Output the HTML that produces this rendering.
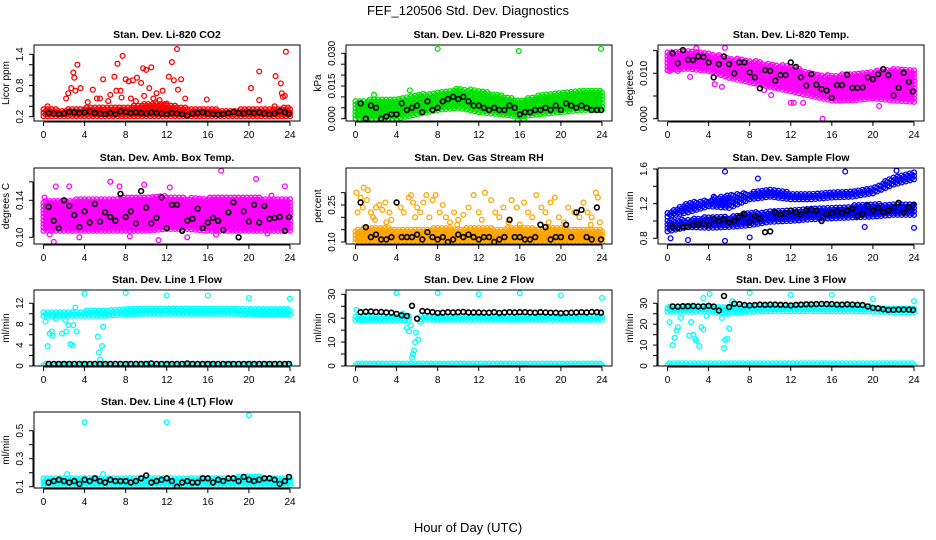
<!DOCTYPE html>
<html><head><meta charset="utf-8"><style>
html,body{margin:0;padding:0;background:#fff;}
svg{display:block;font-family:"Liberation Sans",sans-serif;}
</style></head><body>
<svg id="chart" width="936" height="540" viewBox="0 0 936 540" xmlns="http://www.w3.org/2000/svg">
<rect x="0" y="0" width="936" height="540" fill="#fff"/>
<text x="468" y="15" text-anchor="middle" font-size="13">FEF_120506  Std. Dev. Diagnostics</text>
<text x="468" y="532" text-anchor="middle" font-size="13">Hour of Day (UTC)</text>
</svg>
<script>
// ---- shared data ----
const xTicks = [0,4,8,12,16,20,24];
const bandHours = [0,2,4,6,8,10,12,14,16,18,20,22,24];
const blackHours = [0.5,1,1.5,2,2.5,3,3.5,4,4.5,5,5.5,6,6.5,7,7.5,8,8.5,9,9.5,10,10.5,11,11.5,12,12.5,13,13.5,14,14.5,15,15.5,16,16.5,17,17.5,18,18.5,19,19.5,20,20.5,21,21.5,22,22.5,23,23.5,23.9];

// ---- CO2 ----
const co2BandLo = [0.21,0.21,0.21,0.21,0.21,0.21,0.21,0.21,0.21,0.21,0.21,0.21,0.21];
const co2BandHi = [0.36,0.34,0.38,0.38,0.40,0.45,0.45,0.38,0.35,0.34,0.35,0.35,0.40];
const co2OutX = [0.4,2.2,2.4,2.7,2.9,3.0,3.3,3.1,3.6,4.3,4.8,5.2,5.5,5.8,6.3,6.5,6.9,7.1,7.2,7.5,7.7,7.6,8.0,8.3,8.7,9.1,9.5,9.7,10.0,10.3,10.5,10.7,11.0,11.6,12.2,12.5,12.7,13.0,13.1,13.4,13.8,15.9,20.2,21.0,21.0,22.6,23.1,23.2,23.3,23.6,23.5,22.5,9.0,9.8,10.9,12.0,8.5,11.3];
const co2OutY = [0.40,0.55,0.65,0.75,1.05,0.95,1.2,0.7,0.75,0.48,0.72,0.55,0.55,0.92,0.5,0.62,0.97,0.7,1.22,0.7,1.37,0.57,0.92,0.88,0.9,0.95,0.85,1.13,1.1,0.75,1.15,0.55,0.65,0.7,0.97,1.25,0.9,1.5,0.72,0.92,0.55,0.53,0.75,1.07,0.52,0.98,0.84,0.65,0.58,1.45,0.6,0.4,0.5,0.6,0.48,0.45,0.55,0.52];
const co2Black = [0.27,0.26,0.25,0.26,0.29,0.28,0.27,0.28,0.30,0.27,0.26,0.25,0.27,0.25,0.30,0.29,0.27,0.28,0.27,0.26,0.28,0.27,0.26,0.25,0.27,0.26,0.25,0.22,0.26,0.27,0.28,0.26,0.25,0.24,0.25,0.27,0.29,0.27,0.26,0.28,0.27,0.28,0.26,0.25,0.26,0.31,0.28,0.25];

// ---- Pressure ----
const presBandLo = [0.000,0.000,0.000,0.002,0.004,0.005,0.003,0.002,0.001,0.002,0.003,0.004,0.004];
const presBandHi = [0.0086,0.009,0.0094,0.011,0.0124,0.0139,0.0132,0.011,0.0086,0.011,0.0124,0.013,0.0132];
const presOutX = [8,15.9,23.9,5.3,1.8,15.8,16.4];
const presOutY = [0.032,0.031,0.032,0.013,0.011,-0.0005,-0.0005];
const presBlack = [0.007,0.000,0.006,0.005,0.000,0.001,0.002,0.002,0.007,0.004,0.005,0.006,0.003,0.008,0.004,0.005,0.008,0.009,0.010,0.009,0.010,0.008,0.006,0.006,0.005,0.004,0.005,0.004,0.004,0.006,0.005,0.002,0.003,0.003,0.004,0.004,0.005,0.004,0.006,0.004,0.007,0.006,0.005,0.006,0.005,0.004,0.004,0.004];

// ---- Li-820 Temp ----
const tempBandLo = [0.0107,0.011,0.0105,0.009,0.008,0.007,0.006,0.005,0.004,0.004,0.0045,0.004,0.0037];
const tempBandHi = [0.0148,0.015,0.0145,0.0135,0.013,0.012,0.0118,0.010,0.0096,0.010,0.0105,0.011,0.0107];
const tempOutX = [15.1,12,12.3,13.2,20.6,10.1,9.4,5.6,2.8,4.6,5.3,0.2,2.2,1.0];
const tempOutY = [0.000,0.0035,0.0035,0.0035,0.0028,0.0052,0.0063,0.0156,0.0155,0.0076,0.007,0.0105,0.0092,0.0105];
const tempBlack = [0.0144,0.0122,0.0151,0.013,0.0129,0.0137,0.0136,0.0124,0.0091,0.012,0.0137,0.012,0.010,0.0124,0.0124,0.0102,0.0091,0.0067,0.0107,0.0105,0.0084,0.0096,0.0096,0.0124,0.0114,0.0091,0.0073,0.0098,0.0075,0.0065,0.0062,0.0046,0.0074,0.0074,0.0097,0.0068,0.0068,0.0069,0.0091,0.0087,0.0098,0.0109,0.0096,0.0051,0.0068,0.0101,0.0081,0.006];

// ---- Amb Box Temp ----
const ambBandLo = [0.107,0.107,0.107,0.107,0.107,0.107,0.109,0.109,0.107,0.107,0.107,0.107,0.107];
const ambBandHi = [0.140,0.140,0.142,0.142,0.143,0.143,0.145,0.143,0.143,0.143,0.144,0.142,0.142];
const ambOutX = [1.2,1.0,17.3,6.5,9.8,20.7,2.5,23.5,0.6,3.5,7.4,11.2,14.0,8.4,16.8,21.8,0.1,12.3,22.2];
const ambOutY = [0.155,0.095,0.172,0.160,0.157,0.163,0.155,0.155,0.103,0.100,0.155,0.097,0.100,0.101,0.103,0.104,0.143,0.154,0.145];
const ambBlack = [0.133,0.118,0.110,0.140,0.134,0.124,0.111,0.128,0.116,0.136,0.117,0.127,0.122,0.118,0.147,0.122,0.128,0.115,0.150,0.132,0.115,0.121,0.143,0.110,0.135,0.135,0.107,0.118,0.120,0.131,0.110,0.116,0.121,0.118,0.108,0.127,0.138,0.100,0.128,0.117,0.135,0.116,0.134,0.120,0.121,0.122,0.107,0.122];

// ---- Gas Stream RH ----
const rhBandLo = [0.10,0.10,0.10,0.10,0.10,0.10,0.10,0.10,0.10,0.10,0.10,0.10,0.10];
const rhBandHi = [0.155,0.16,0.155,0.15,0.16,0.155,0.16,0.155,0.16,0.155,0.16,0.15,0.155];
const rhOutX = [0.1,0.2,0.5,0.7,0.8,1.2,1.1,1.5,1.7,2,2.3,2.6,2.9,3.3,3.5,4.4,4.7,5.2,5.4,5.6,6.0,6.3,6.6,6.9,7.2,7.5,7.8,8.2,8.5,8.8,9.2,9.6,10,10.5,11,11.5,12,12.6,13.2,13.6,14.0,14.4,14.9,15.2,15.7,16.4,16.8,17.2,17.6,18.1,18.5,19.0,19.4,19.8,20.3,20.7,21.3,21.8,22.2,22.6,23.0,23.4,23.6,23.8,3.0,9.9,16.0,22.9,1.9,5.8,12.3,18.8];
const rhOutY = [0.30,0.22,0.28,0.24,0.32,0.31,0.27,0.22,0.20,0.24,0.25,0.23,0.26,0.22,0.19,0.24,0.22,0.28,0.29,0.26,0.24,0.22,0.26,0.29,0.20,0.27,0.29,0.22,0.25,0.20,0.18,0.22,0.19,0.21,0.24,0.29,0.22,0.30,0.27,0.22,0.20,0.24,0.18,0.27,0.24,0.26,0.22,0.20,0.29,0.24,0.22,0.26,0.28,0.20,0.18,0.24,0.22,0.20,0.26,0.22,0.20,0.30,0.28,0.18,0.18,0.17,0.17,0.17,0.19,0.20,0.19,0.18];
const rhBlack = [0.26,0.16,0.12,0.13,0.11,0.11,0.12,0.26,0.12,0.12,0.12,0.13,0.11,0.14,0.12,0.11,0.12,0.10,0.11,0.13,0.12,0.13,0.12,0.11,0.12,0.12,0.10,0.11,0.12,0.19,0.12,0.12,0.11,0.11,0.12,0.17,0.16,0.11,0.12,0.12,0.17,0.12,0.22,0.23,0.12,0.11,0.24,0.11];

// ---- Sample Flow ----
const flowLowLo = [0.88,0.93,0.92,0.93,0.95,0.99,1.00,1.02,1.03,1.04,1.05,1.07,1.07];
const flowLowHi = [1.02,1.02,1.05,1.05,1.10,1.12,1.13,1.15,1.17,1.18,1.20,1.20,1.20];
const flowHighLo = [1.05,1.10,1.17,1.15,1.25,1.28,1.25,1.25,1.27,1.28,1.32,1.42,1.48];
const flowHighHi = [1.10,1.22,1.25,1.30,1.33,1.37,1.33,1.33,1.35,1.35,1.38,1.52,1.57];
const flowOutX = [5.6,5.6,8.8,8,2,24,19.2,17.3,22.3,0.3,4.5];
const flowOutY = [1.57,0.77,1.49,0.81,0.78,0.92,0.93,1.57,1.58,0.80,1.28];
const flowBlack = [0.93,0.92,0.93,0.93,0.95,0.96,0.97,0.95,1.02,1.00,1.02,0.98,1.00,1.05,1.08,0.99,1.06,1.03,0.87,0.88,1.10,1.07,1.09,1.12,1.10,1.07,1.12,1.13,1.12,1.00,1.08,1.09,1.11,1.09,1.12,1.14,1.06,1.08,1.18,1.12,1.15,1.10,1.12,1.16,1.21,1.10,1.16,1.18];

// ---- Line 1 ----
const l1BandLo = [9.6,9.6,9.6,9.6,9.9,10.0,10.0,10.0,10.0,10.0,9.9,9.9,9.9];
const l1BandHi = [10.6,10.5,10.6,10.7,10.9,11.0,11.0,11.0,11.0,11.0,10.9,10.9,10.9];
const l1LowLo = [0.1,0.1,0.1,0.1,0.1,0.1,0.1,0.1,0.1,0.1,0.1,0.1,0.1];
const l1LowHi = [0.6,0.6,0.6,0.6,0.6,0.6,0.6,0.6,0.6,0.6,0.6,0.6,0.6];
const l1OutX = [0.2,0.4,0.6,0.8,0.9,1.2,1.8,2.2,2.4,2.6,2.8,2.9,3.1,3.2,4,5.3,5.4,5.5,5.7,5.8,8,12,16,20,24,2.1];
const l1OutY = [8.5,3.8,6.2,6.6,5.8,9.0,6.2,6.6,7.8,4.2,4.0,7.8,11.2,6.6,13.8,5.6,2.6,1.2,3.8,7.5,14,13.5,13.5,13,12.9,8.8];
const l1Black = [0.4,0.4,0.4,0.4,0.4,0.4,0.4,0.4,0.4,0.4,0.4,0.4,0.4,0.4,0.4,0.4,0.4,0.4,0.4,0.4,0.5,0.4,0.4,0.4,0.4,0.4,0.4,0.5,0.4,0.4,0.4,0.4,0.4,0.4,0.4,0.4,0.4,0.4,0.4,0.4,0.4,0.4,0.4,0.4,0.4,0.4,0.4,0.4];

// ---- Line 2 ----
const l2BandLo = [19.2,19.2,19.2,19.5,19.3,19.3,19.3,19.3,19.3,19.3,19.3,19.3,19.3];
const l2BandHi = [21.2,21.0,21.2,21.5,21.2,21.2,21.2,21.2,21.2,21.2,21.2,21.2,21.2];
const l2LowLo = [0.3,0.3,0.3,0.3,0.3,0.3,0.3,0.3,0.3,0.3,0.3,0.3,0.3];
const l2LowHi = [1.3,1.3,1.3,1.3,1.3,1.3,1.3,1.3,1.3,1.3,1.3,1.3,1.3];
const l2OutX = [4,8,12,16,20,24,4.6,4.8,5.0,5.2,5.4,5.5,5.6,5.7,5.8,5.9,6.1,6.3,5.0,0.1];
const l2OutY = [30.5,30.5,30,30.4,29.5,28.5,22,19,16,14.5,17,3.5,5,6.5,10,14,11,18.5,20,23.5];
const l2Black = [22.5,22.7,22.8,22.6,22.6,22.4,22.3,21.8,21.2,20.9,25.2,19.8,23.0,22.8,22.5,22.2,22.3,22.5,22.4,22.5,22.6,22.4,22.4,22.4,22.3,22.3,22.5,22.2,22.4,22.5,22.4,22.5,22.5,22.4,22.3,22.5,22.4,22.3,22.3,22.1,22.2,22.3,22.4,22.5,22.4,22.6,22.5,22.3];

// ---- Line 3 ----
const l3BandLo = [26.0,26.0,26.0,25.5,26.0,26.2,26.2,26.2,26.2,26.2,26.0,25.8,25.8];
const l3BandHi = [28.5,28.5,28.5,28.5,28.6,28.8,28.8,28.8,28.8,28.8,28.5,27.8,27.8];
const l3LowLo = [0.5,0.5,0.5,0.5,0.5,0.5,0.5,0.5,0.5,0.5,0.5,0.5,0.5];
const l3LowHi = [1.6,1.6,1.6,1.6,1.6,1.6,1.6,1.6,1.6,1.6,1.6,1.6,1.6];
const l3OutX = [0.2,0.5,0.7,0.9,1.0,1.3,2.1,2.3,2.5,2.7,2.8,3.1,3.3,3.5,3.5,4.1,5.3,5.5,5.6,5.8,6.0,6.3,8,12,16,20,24,3.8,5.8];
const l3OutY = [21,10,13.5,17,18.5,23,14.5,21,15,13,12,9.5,18.5,17.5,32.5,34.5,23,8.5,12.5,13,18,31,35,34,34,32,31,24,25];
const l3Black = [28.5,28.4,28.6,28.6,28.7,28.5,28.5,28.8,28.4,26.5,33.5,28.2,29.8,29.6,29.2,29.0,29.2,29.4,29.3,29.4,29.4,29.3,29.2,29.0,29.3,29.4,29.5,29.5,29.6,29.7,29.6,29.6,29.4,29.4,29.5,29.4,29.3,29.2,28.5,27.8,27.6,27.2,26.8,26.9,27.0,27.0,27.0,26.8];

// ---- Line 4 ----
const l4BandLo = [0.11,0.11,0.11,0.11,0.11,0.11,0.11,0.11,0.11,0.11,0.11,0.11,0.11];
const l4BandHi = [0.165,0.17,0.17,0.17,0.17,0.17,0.17,0.165,0.17,0.17,0.175,0.17,0.17];
const l4OutX = [4,12,20,2.3,5.8,0.1,1.2,4.8,8.3,14.2];
const l4OutY = [0.56,0.56,0.61,0.19,0.19,0.12,0.10,0.10,0.10,0.11];
const l4Black = [0.13,0.14,0.15,0.14,0.13,0.14,0.12,0.15,0.14,0.16,0.14,0.13,0.15,0.14,0.14,0.14,0.13,0.14,0.16,0.18,0.13,0.14,0.15,0.16,0.14,0.10,0.13,0.14,0.13,0.13,0.16,0.16,0.13,0.15,0.14,0.16,0.16,0.14,0.17,0.15,0.14,0.15,0.16,0.16,0.15,0.12,0.14,0.17];

const NS = "http://www.w3.org/2000/svg";
const svg = document.getElementById("chart");
function el(tag, attrs, parent) {
  const e = document.createElementNS(NS, tag);
  for (const k in attrs) e.setAttribute(k, attrs[k]);
  (parent || svg).appendChild(e);
  return e;
}
const colLeft = [34, 346, 658];
const rowTop = [45, 168, 290, 412];
const PW = 266, PH = 76;

function panel(p) {
  const left = colLeft[p.col], top = rowTop[p.row];
  const g = el("g", {});
  
  
  const xs = h => left + 9.5 + h * (246.5 / 24);
  const ys = v => p.py1 + (v - p.v1) * (p.py2 - p.py1) / (p.v2 - p.v1);
  const cid = "clip-" + p.name;
  const cp = el("clipPath", {id: cid}, g);
  el("rect", {x: left, y: top, width: PW, height: PH}, cp);
  const pts = el("g", {"clip-path": "url(#" + cid + ")", fill: "none", "stroke-width": 1.3}, g);
  function dot(h, v, color, nm, sw) {
    const c = el("circle", {cx: xs(h).toFixed(1), cy: ys(v).toFixed(1), r: 2.4, stroke: color, "stroke-width": sw || 1.3}, pts);
    
    
  }
  (p.bands || []).forEach(b => {
    for (let h = 0; h <= 24.0001; h += 0.2) {
      const i = Math.min(Math.floor(h / 2), 11), f = (h - bandHours[i]) / 2;
      const lo = b.lo[i] + (b.lo[i + 1] - b.lo[i]) * f;
      const hi = b.hi[i] + (b.hi[i + 1] - b.hi[i]) * f;
      if (b.skip && h > b.skip[0] && h < b.skip[1]) continue;
      const y0 = ys(lo), y1 = ys(hi);
      const off = (Math.round(h / 0.2) % 2) * 1.7;
      for (let y = y0 - off; y >= y1; y -= 3.5) {
        const c = el("circle", {cx: xs(h).toFixed(1), cy: y.toFixed(1), r: 2.4, stroke: b.color}, pts);
        
        
      }
    }
  });
  (p.outX || []).forEach((h, i) => dot(h, p.outY[i], p.color, 'outlier-point'));
  p.black.forEach((v, i) => dot(blackHours[i], v, "#000", 'mean-point', 1.6));
  const fr = el("rect", {x: left, y: top, width: PW, height: PH, fill: "none", stroke: "#000", "stroke-width": 1}, g);
  
  
  const xa = el("g", {stroke: "#000", "stroke-width": 1}, g);
  
  
  el("line", {x1: xs(0), x2: xs(24), y1: top + PH + 1, y2: top + PH + 1}, xa);
  xTicks.forEach(t => {
    el("line", {x1: xs(t), x2: xs(t), y1: top + PH + 1, y2: top + PH + 5}, xa);
    const tx = el("text", {x: xs(t), y: top + PH + 17, "text-anchor": "middle", "font-size": 10, stroke: "none", fill: "#000"}, g);
    
    
    tx.textContent = t;
  });
  const ya = el("g", {stroke: "#000", "stroke-width": 1}, g);
  
  
  const n = Math.round((p.tMax - p.tMin) / p.tStep);
  el("line", {x1: left - 1, x2: left - 1, y1: ys(p.tMin), y2: ys(p.tMin + n * p.tStep)}, ya);
  for (let k = 0; k <= n; k++) {
    const v = p.tMin + k * p.tStep;
    el("line", {x1: left - 5, x2: left - 1, y1: ys(v), y2: ys(v)}, ya);
  }
  p.labels.forEach(v => {
    const yy = ys(v);
    const tx = el("text", {x: left - 11, y: yy, "text-anchor": "middle", "font-size": 10, transform: "rotate(-90 " + (left - 11) + " " + yy + ")"}, g);
    
    
    tx.textContent = v.toFixed(p.dec);
  });
  const yc = top + PH / 2;
  const yl = el("text", {x: left - 25, y: yc, "text-anchor": "middle", "font-size": 10, transform: "rotate(-90 " + (left - 25) + " " + yc + ")"}, g);
  
  
  yl.textContent = p.ylab;
  const tt = el("text", {x: left + PW / 2, y: top - 7, "text-anchor": "middle", "font-size": 10.5, "font-weight": "bold"}, g);
  
  
  tt.textContent = p.title;
}

const RED = "#ff0000", GREEN = "#00e000", MAG = "#ff00ff", ORG = "#ffa500", BLUE = "#0000ff", CYAN = "#00ffff";
panel({name: "co2-panel", col: 0, row: 0, title: "Stan. Dev. Li-820 CO2", ylab: "Licor ppm", v1: 0.2, py1: 116.7, v2: 1.4, py2: 54.3, tMin: 0.2, tMax: 1.4, tStep: 0.2, labels: [0.2, 0.8, 1.4], dec: 1, color: RED, bands: [{lo: co2BandLo, hi: co2BandHi, color: RED}], outX: co2OutX, outY: co2OutY, black: co2Black});
panel({name: "pressure-panel", col: 1, row: 0, title: "Stan. Dev. Li-820 Pressure", ylab: "kPa", v1: 0, py1: 118.7, v2: 0.03, py2: 53.3, tMin: 0, tMax: 0.03, tStep: 0.005, labels: [0, 0.015, 0.03], dec: 3, color: GREEN, bands: [{lo: presBandLo, hi: presBandHi, color: GREEN}], outX: presOutX, outY: presOutY, black: presBlack});
panel({name: "licor-temp-panel", col: 2, row: 0, title: "Stan. Dev. Li-820 Temp.", ylab: "degrees C", v1: 0, py1: 118.7, v2: 0.01, py2: 73.3, tMin: 0, tMax: 0.015, tStep: 0.005, labels: [0, 0.01], dec: 3, color: MAG, bands: [{lo: tempBandLo, hi: tempBandHi, color: MAG}], outX: tempOutX, outY: tempOutY, black: tempBlack});
panel({name: "amb-box-temp-panel", col: 0, row: 1, title: "Stan. Dev. Amb. Box Temp.", ylab: "degrees C", v1: 0.10, py1: 237.3, v2: 0.14, py2: 200.3, tMin: 0.10, tMax: 0.16, tStep: 0.02, labels: [0.10, 0.14], dec: 2, color: MAG, bands: [{lo: ambBandLo, hi: ambBandHi, color: MAG}], outX: ambOutX, outY: ambOutY, black: ambBlack});
panel({name: "gas-rh-panel", col: 1, row: 1, title: "Stan. Dev. Gas Stream RH", ylab: "percent", v1: 0.10, py1: 242, v2: 0.25, py2: 205, tMin: 0.10, tMax: 0.30, tStep: 0.05, labels: [0.10, 0.25], dec: 2, color: ORG, bands: [{lo: rhBandLo, hi: rhBandHi, color: ORG}], outX: rhOutX, outY: rhOutY, black: rhBlack});
panel({name: "sample-flow-panel", col: 2, row: 1, title: "Stan. Dev. Sample Flow", ylab: "ml/min", v1: 0.8, py1: 238.3, v2: 1.6, py2: 169, tMin: 0.8, tMax: 1.6, tStep: 0.2, labels: [0.8, 1.2, 1.6], dec: 1, color: BLUE, bands: [{lo: flowLowLo, hi: flowLowHi, color: BLUE}, {lo: flowHighLo, hi: flowHighHi, color: BLUE}], outX: flowOutX, outY: flowOutY, black: flowBlack});
panel({name: "line1-flow-panel", col: 0, row: 2, title: "Stan. Dev. Line 1 Flow", ylab: "ml/min", v1: 0, py1: 366, v2: 12, py2: 303.3, tMin: 0, tMax: 12, tStep: 2, labels: [0, 4, 8, 12], dec: 0, color: CYAN, bands: [{lo: l1BandLo, hi: l1BandHi, color: CYAN}, {lo: l1LowLo, hi: l1LowHi, color: CYAN}], outX: l1OutX, outY: l1OutY, black: l1Black});
panel({name: "line2-flow-panel", col: 1, row: 2, title: "Stan. Dev. Line 2 Flow", ylab: "ml/min", v1: 0, py1: 366, v2: 30, py2: 294.3, tMin: 0, tMax: 30, tStep: 5, labels: [0, 10, 20, 30], dec: 0, color: CYAN, bands: [{lo: l2BandLo, hi: l2BandHi, color: CYAN, skip: [5.3, 6.3]}, {lo: l2LowLo, hi: l2LowHi, color: CYAN}], outX: l2OutX, outY: l2OutY, black: l2Black});
panel({name: "line3-flow-panel", col: 2, row: 2, title: "Stan. Dev. Line 3 Flow", ylab: "ml/min", v1: 0, py1: 366, v2: 30, py2: 303.3, tMin: 0, tMax: 30, tStep: 5, labels: [0, 10, 20, 30], dec: 0, color: CYAN, bands: [{lo: l3BandLo, hi: l3BandHi, color: CYAN}, {lo: l3LowLo, hi: l3LowHi, color: CYAN}], outX: l3OutX, outY: l3OutY, black: l3Black});
panel({name: "line4-flow-panel", col: 0, row: 3, title: "Stan. Dev. Line 4 (LT) Flow", ylab: "ml/min", v1: 0.1, py1: 486.7, v2: 0.5, py2: 430.7, tMin: 0.1, tMax: 0.5, tStep: 0.1, labels: [0.1, 0.3, 0.5], dec: 1, color: CYAN, bands: [{lo: l4BandLo, hi: l4BandHi, color: CYAN}], outX: l4OutX, outY: l4OutY, black: l4Black});
</script>
</body></html>
